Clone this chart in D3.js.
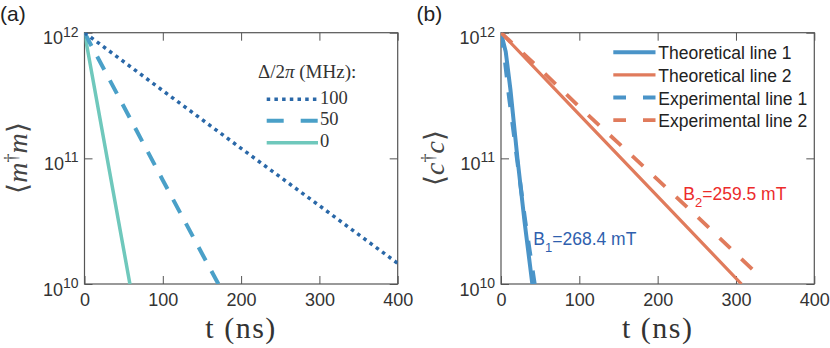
<!DOCTYPE html>
<html>
<head>
<meta charset="utf-8">
<script src="https://cdn.jsdelivr.net/npm/d3@7"></script>
<style>
  body { margin: 0; background: #fff; }
  svg { display: block; }
</style>
</head>
<body>
<svg id="fig" width="830" height="348"></svg>
<script>
// ---- data ----
// panel (a): <m†m> vs t for three detunings
const detuneLabels = ["100", "50", "0"];
const tA100 = [0, 100, 200, 300, 400];
const nA100 = [1e12, 3.46e11, 1.2e11, 4.2e10, 1.46e10];
const tA50 = [0, 50, 100, 150, 171];
const nA50 = [1e12, 2.6e11, 6.7e10, 1.75e10, 1e10];
const tA0 = [0, 30, 58];
const nA0 = [1e12, 9.2e10, 1e10];

// panel (b): <c†c> vs t, theory and experiment
const bLabels = ["Theoretical line 1", "Theoretical line 2", "Experimental line 1", "Experimental line 2"];
const tTheo1 = [0, 6, 12, 21, 30, 40];
const nTheo1 = [1e12, 7.08e11, 3.55e11, 1e11, 3.16e10, 1e10];
const tTheo2 = [0, 100, 200, 307];
const nTheo2 = [1e12, 2.23e11, 4.98e10, 1e10];
const tExp1 = [0, 5, 10, 21, 31, 43];
const nExp1 = [1e12, 6.0e11, 3.16e11, 9.3e10, 3.16e10, 1e10];
const tExp2 = [0, 50, 100, 150, 200, 250, 300, 329];
const nExp2 = [1e12, 5.13e11, 2.57e11, 1.32e11, 6.76e10, 3.47e10, 1.74e10, 1.17e10];

const xTicks = [0, 100, 200, 300, 400];
const yTicks = [1e10, 1e11, 1e12];
const yTickExp = ["10", "11", "12"];

const svg = d3.select("#fig");
const sans = "'Liberation Sans', Arial, Helvetica, sans-serif";
const serif = "'Liberation Serif', 'Times New Roman', serif";

function zip(t, n) { return t.map((v, i) => [v, n[i]]); }

function panel(left, right, top, bottom, id) {
    const x = d3.scaleLinear().domain([0, 400]).range([left, right]);
    const y = d3.scaleLog().domain([1e10, 1e12]).range([bottom, top]);
    const g = svg.append("g");

    g.append("clipPath").attr("id", "clip" + id)
        .append("rect").attr("x", left).attr("y", top)
        .attr("width", right - left).attr("height", bottom - top);

    // axes with inward ticks
    const axB = g.append("g").attr("transform", `translate(0,${bottom})`)
        .call(d3.axisBottom(x).tickValues(xTicks).tickSizeInner(-8).tickSizeOuter(0).tickPadding(9));
    const axT = g.append("g").attr("transform", `translate(0,${top})`)
        .call(d3.axisTop(x).tickValues(xTicks).tickSizeInner(-8).tickSizeOuter(0).tickFormat(""));
    const axL = g.append("g").attr("transform", `translate(${left},0)`)
        .call(d3.axisLeft(y).tickValues(yTicks).tickSizeInner(-8).tickSizeOuter(0).tickFormat(""));
    const axR = g.append("g").attr("transform", `translate(${right},0)`)
        .call(d3.axisRight(y).tickValues(yTicks).tickSizeInner(-8).tickSizeOuter(0).tickFormat(""));
    [axB, axT, axL, axR].forEach(a => {
        a.select(".domain").remove();
        a.selectAll(".tick line").attr("stroke", "#555").attr("stroke-width", 1);
    });
    axB.selectAll(".tick text").attr("font-family", sans).attr("font-size", 18)
        .attr("fill", "#333");

    // y tick labels 10^n
    yTicks.forEach((v, i) => {
        const t = g.append("text").attr("x", left - 6).attr("y", y(v) + 11.6)
            .attr("text-anchor", "end").attr("font-family", sans).attr("fill", "#333");
        t.append("tspan").attr("font-size", 18).text("10");
        t.append("tspan").attr("font-size", 14).attr("dy", -7.6).text(yTickExp[i]);
    });

    g.append("rect").attr("x", left).attr("y", top)
        .attr("width", right - left).attr("height", bottom - top)
        .attr("fill", "none").attr("stroke", "#555").attr("stroke-width", 1.2);

    const line = d3.line().x(d => x(d[0])).y(d => y(d[1]));
    const plot = g.append("g").attr("clip-path", `url(#clip${id})`);

    // x label
    g.append("text").attr("x", (left + right) / 2).attr("y", 338)
        .attr("text-anchor", "middle").attr("font-family", serif)
        .attr("font-size", 30).attr("letter-spacing", 1.5).attr("fill", "#333")
        .text("t (ns)");

    return { x, y, g, plot, line };
}

// ---------- panel (a) ----------
const A = panel(84.5, 397.7, 32.7, 284, "a");
const aSeries = [
    { d: zip(tA100, nA100), c: "#2a68a8", w: 3.5, dash: "3.5,4.2" },
    { d: zip(tA50, nA50), c: "#4aa0c8", w: 4, dash: "15,12" },
    { d: zip(tA0, nA0), c: "#6fc8bc", w: 3.5, dash: null }
];
aSeries.slice().reverse().forEach(s => {
    A.plot.append("path").attr("d", A.line(s.d)).attr("fill", "none")
        .attr("stroke", s.c).attr("stroke-width", s.w)
        .attr("stroke-dasharray", s.dash);
});

// legend (a)
const legA = A.g.append("g");
legA.append("text").attr("x", 258).attr("y", 77.7).attr("font-family", serif)
    .attr("font-size", 19).attr("fill", "#333")
    .html("Δ/2<tspan font-style='italic'>π</tspan> (MHz):");
const legARows = [99.3, 120.7, 142.7];
const legADash = ["3.5,4.2", "17,17", null];
aSeries.forEach((s, i) => {
    legA.append("line").attr("x1", 266.7).attr("x2", 318).attr("y1", legARows[i]).attr("y2", legARows[i])
        .attr("stroke", s.c).attr("stroke-width", s.w).attr("stroke-dasharray", legADash[i]);
    legA.append("text").attr("x", 320).attr("y", legARows[i] + 4.5).attr("font-family", serif)
        .attr("font-size", 18.5).attr("fill", "#333").text(detuneLabels[i]);
});

// y label (a)
svg.append("text").attr("transform", "translate(27,158) rotate(-90)")
    .attr("text-anchor", "middle").attr("font-family", serif).attr("font-size", 28)
    .attr("fill", "#444")
    .html("<tspan font-family='DejaVu Sans' font-weight='200'>⟨</tspan><tspan font-style='italic'>m</tspan><tspan font-size='18' dy='-10'>†</tspan><tspan font-style='italic' dy='10'>m</tspan><tspan font-family='DejaVu Sans' font-weight='200'>⟩</tspan>");

// ---------- panel (b) ----------
const B = panel(501, 814.3, 32.7, 284, "b");
const blue = "#4a94c8", orange = "#e07b5c";
const bSeries = [
    { d: zip(tTheo1, nTheo1), c: blue, w: 4, dash: null },
    { d: zip(tTheo2, nTheo2), c: orange, w: 3.2, dash: null },
    { d: zip(tExp1, nExp1), c: blue, w: 4, dash: "15,15" },
    { d: zip(tExp2, nExp2), c: orange, w: 3.8, dash: "15,15" }
];
bSeries.forEach(s => {
    B.plot.append("path").attr("d", B.line(s.d)).attr("fill", "none")
        .attr("stroke", s.c).attr("stroke-width", s.w)
        .attr("stroke-dasharray", s.dash);
});

const legBRows = [52.3, 74.9, 97.5, 120.1];
bSeries.forEach((s, i) => {
    B.g.append("line").attr("x1", 613.3).attr("x2", 655.5).attr("y1", legBRows[i]).attr("y2", legBRows[i])
        .attr("stroke", s.c).attr("stroke-width", s.w)
        .attr("stroke-dasharray", s.dash ? "12.7,17" : null);
    B.g.append("text").attr("x", 658.3).attr("y", legBRows[i] + 7).attr("font-family", sans)
        .attr("font-size", 17.5).attr("fill", "#222").text(bLabels[i]);
});

// annotations
const ann1 = B.g.append("text").attr("x", 533.3).attr("y", 245).attr("font-family", sans)
    .attr("font-size", 17.5).attr("fill", "#2f5fae");
ann1.append("tspan").text("B");
ann1.append("tspan").attr("font-size", 13).attr("dy", 7).text("1");
ann1.append("tspan").attr("dy", -7).text("=268.4 mT");
const ann2 = B.g.append("text").attr("x", 683.3).attr("y", 200).attr("font-family", sans)
    .attr("font-size", 17.5).attr("fill", "#ec2b2b");
ann2.append("tspan").text("B");
ann2.append("tspan").attr("font-size", 13).attr("dy", 7).text("2");
ann2.append("tspan").attr("dy", -7).text("=259.5 mT");

// y label (b)
svg.append("text").attr("transform", "translate(444,158) rotate(-90)")
    .attr("text-anchor", "middle").attr("font-family", serif).attr("font-size", 28)
    .attr("fill", "#444")
    .html("<tspan font-family='DejaVu Sans' font-weight='200'>⟨</tspan><tspan font-style='italic'>c</tspan><tspan font-size='18' dy='-10'>†</tspan><tspan font-style='italic' dy='10'>c</tspan><tspan font-family='DejaVu Sans' font-weight='200'>⟩</tspan>");

// panel tags
svg.append("text").attr("x", 0).attr("y", 21).attr("font-family", sans)
    .attr("font-size", 21).attr("fill", "#222").text("(a)");
svg.append("text").attr("x", 416.5).attr("y", 21).attr("font-family", sans)
    .attr("font-size", 21).attr("fill", "#222").text("(b)");
</script>
</body>
</html>
